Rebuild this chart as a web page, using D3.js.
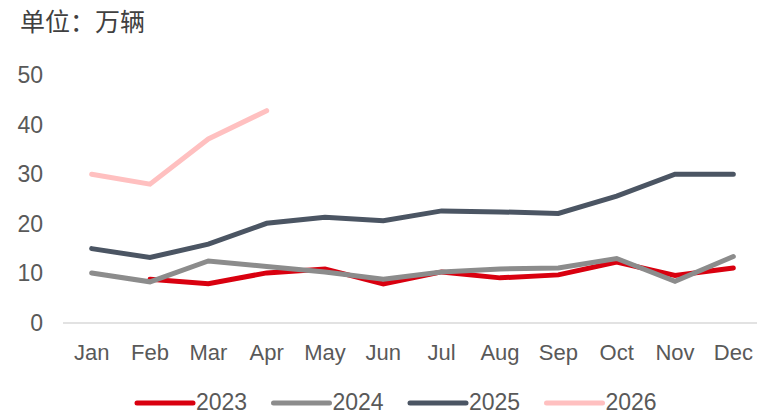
<!DOCTYPE html>
<html>
<head>
<meta charset="utf-8">
<script src="https://cdn.jsdelivr.net/npm/d3@7"></script>
<style>
  body { margin: 0; background: #fff; }
  text { font-family: "Liberation Sans", Arial, sans-serif; }
</style>
</head>
<body>
<script>
// months on the x axis
var months = ["Jan", "Feb", "Mar", "Apr", "May", "Jun", "Jul", "Aug", "Sep", "Oct", "Nov", "Dec"];
var yTicks = [0, 10, 20, 30, 40, 50];

// monthly values, 万辆 (null = no data)
var v2023 = [null, 8.8, 7.9, 10.1, 10.9, 7.9, 10.3, 9.1, 9.7, 12.3, 9.6, 11.1];
var v2024 = [10.1, 8.3, 12.5, 11.4, 10.3, 8.8, 10.3, 10.9, 11.1, 13.0, 8.4, 13.4];
var v2025 = [15.0, 13.2, 15.9, 20.1, 21.3, 20.6, 22.6, 22.4, 22.1, 25.6, 30.0, 30.0];
var v2026 = [30.0, 28.0, 37.1, 42.8];

var seriesNames = ["2023", "2024", "2025", "2026"];
var seriesColors = ["#d9000f", "#8c8c8c", "#4b5563", "#ffc0c0"];

var width = 757, height = 412;
var svg = d3.select("body").append("svg")
    .attr("width", width)
    .attr("height", height);

// 标题
svg.append("text")
    .attr("x", 20)
    .attr("y", 31)
    .attr("font-size", 25)
    .attr("fill", "#404040")
    .style("font-family", "'Noto Sans CJK SC', sans-serif")
    .text("单位：万辆");

var x = d3.scaleBand().domain(months).range([62.5, 762.5]);
var y = d3.scaleLinear().domain([0, 50]).range([323, 75]);

// ось X
svg.append("line")
    .attr("x1", 63).attr("x2", width)
    .attr("y1", y(0)).attr("y2", y(0))
    .attr("stroke", "#d9d9d9")
    .attr("stroke-width", 1.5);

svg.selectAll(".xlab")
    .data(months)
    .join("text")
    .attr("class", "xlab")
    .attr("x", d => x(d) + x.bandwidth() / 2)
    .attr("y", 360)
    .attr("text-anchor", "middle")
    .attr("font-size", 22)
    .attr("fill", "#595959")
    .text(d => d);

svg.selectAll(".ylab")
    .data(yTicks)
    .join("text")
    .attr("class", "ylab")
    .attr("x", 43)
    .attr("y", d => y(d) + 8)
    .attr("text-anchor", "end")
    .attr("font-size", 23)
    .attr("fill", "#595959")
    .text(d => d);

// линии
var allSeries = [v2023, v2024, v2025, v2026];
var line = d3.line()
    .defined(d => d != null)
    .x((d, i) => x(months[i]) + x.bandwidth() / 2)
    .y(d => y(d));

allSeries.forEach(function (vals, k) {
    svg.append("path")
        .datum(vals)
        .attr("d", line)
        .attr("fill", "none")
        .attr("stroke", seriesColors[k])
        .attr("stroke-width", 5)
        .attr("stroke-linecap", "round")
        .attr("stroke-linejoin", "miter");
});

// легенда
var legend = svg.selectAll(".leg")
    .data(seriesNames)
    .join("g")
    .attr("class", "leg")
    .attr("transform", (d, i) => "translate(" + (137 + i * 136.5) + ",403)");

legend.append("line")
    .attr("x1", 0).attr("x2", 56)
    .attr("y1", 0).attr("y2", 0)
    .attr("stroke", (d, i) => seriesColors[i])
    .attr("stroke-width", 5)
    .attr("stroke-linecap", "round");

legend.append("text")
    .attr("x", 59)
    .attr("y", 7)
    .attr("font-size", 23)
    .attr("fill", "#595959")
    .text(d => d);
</script>
</body>
</html>
